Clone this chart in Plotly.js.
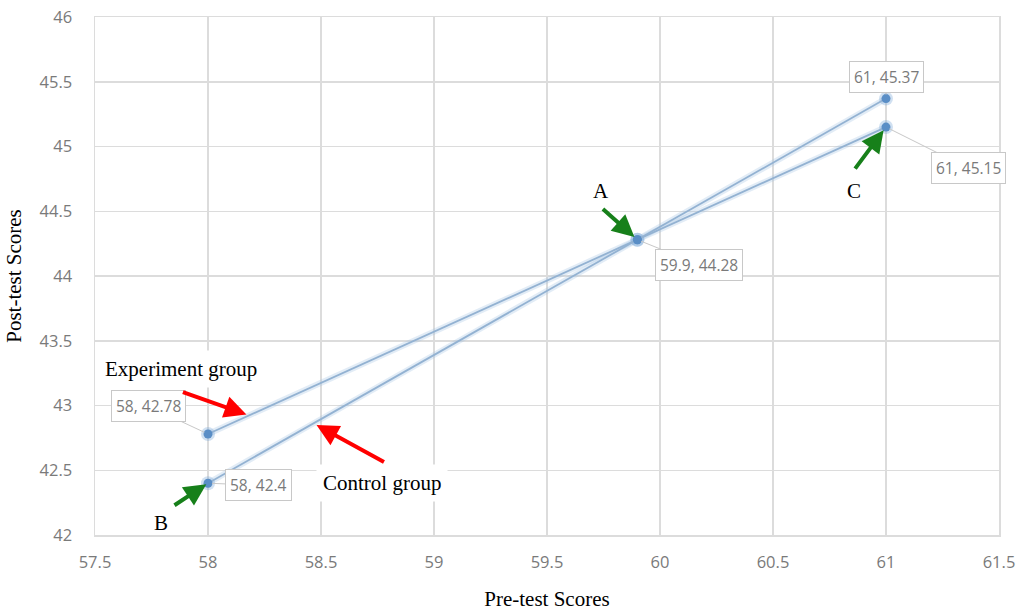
<!DOCTYPE html>
<html>
<head>
<meta charset="utf-8">
<script src="https://cdn.plot.ly/plotly-3.0.1.min.js"></script>
<style>
html,body{margin:0;padding:0;background:#fff;}
#chart{width:1019px;height:612px;}
</style>
</head>
<body>
<div id="chart"></div>
<script>
// ---- data ----
const preTest = [58, 59.9, 61];
const experimentPost = [42.78, 44.28, 45.15];
const controlPost = [42.4, 44.28, 45.37];
const xTicks = [57.5, 58, 58.5, 59, 59.5, 60, 60.5, 61, 61.5];
const yTicks = [42, 42.5, 43, 43.5, 44, 44.5, 45, 45.5, 46];
const seriesNames = ["Experiment group", "Control group"];
const pointLetters = ["A", "B", "C"];

const lineCol = '#93b2d2';
const glowCol = 'rgba(160,192,225,0.30)';
const markerCol = '#5a8ec6';

function glowTrace(y){
  return {x: preTest, y: y, type:'scatter', mode:'lines+markers',
    line:{color:glowCol, width:6}, marker:{color:'rgba(120,165,215,0.35)', size:14},
    hoverinfo:'skip', showlegend:false};
}
function mainTrace(y, name){
  return {x: preTest, y: y, type:'scatter', mode:'lines+markers', name:name,
    line:{color:lineCol, width:1.8}, marker:{color:markerCol, size:9},
    showlegend:false};
}
const traces = [glowTrace(experimentPost), glowTrace(controlPost),
  mainTrace(experimentPost, seriesNames[0]), mainTrace(controlPost, seriesNames[1])];

// data labels (box + leader line)
function dataLabel(x, y, ax, ay){
  return {x:x, y:y, xref:'x', yref:'y', text: x + ', ' + y,
    showarrow:true, arrowhead:0, arrowwidth:1, arrowcolor:'#c8c8c8', standoff:4,
    ax:ax, ay:ay, bgcolor:'#ffffff', bordercolor:'#c8c8c8', borderwidth:1, borderpad:4,
    font:{family:'Open Sans, sans-serif', size:15.5, color:'#7a7a7a'}};
}
const labelFont = {family:'Liberation Serif, Times New Roman, serif', size:21, color:'#000'};
function arrow(x, y, ax, ay, col, standoff){
  return {x:x, y:y, xref:'x', yref:'y', text:'', showarrow:true, arrowhead:2,
    arrowsize:1.1, arrowwidth:4, arrowcolor:col, ax:ax, ay:ay, standoff:standoff||0};
}
const green = '#17801a';
const red = '#ff0000';

const annotations = [
  dataLabel(preTest[0], experimentPost[0], -60, -28),
  dataLabel(preTest[0], controlPost[0], 50, 2),
  dataLabel(preTest[1], experimentPost[1], 62, 25),
  dataLabel(preTest[2], controlPost[2], 0, -22),
  dataLabel(preTest[2], experimentPost[2], 82, 41),
  // group texts
  {x:57.88, y:43.28, xref:'x', yref:'y', text:seriesNames[0], showarrow:false,
   xanchor:'center', font:labelFont, bgcolor:'#fff', borderpad:6},
  {x:58.77, y:42.4, xref:'x', yref:'y', text:seriesNames[1], showarrow:false,
   xanchor:'center', font:labelFont, bgcolor:'#fff', borderpad:6},
  // red arrows
  arrow(58.17, 42.93, -65, -23, red),
  arrow(58.48, 42.85, 69, 38, red),
  // green arrows
  arrow(preTest[1], experimentPost[1], -36, -32, green, 4),
  arrow(preTest[0], controlPost[0], -35, 23, green, 2),
  arrow(preTest[2], experimentPost[2], -32, 43, green, 4),
  // letters
  {x:59.74, y:44.66, xref:'x', yref:'y', text:pointLetters[0], showarrow:false, font:labelFont},
  {x:57.79, y:42.09, xref:'x', yref:'y', text:pointLetters[1], showarrow:false, font:labelFont},
  {x:60.86, y:44.66, xref:'x', yref:'y', text:pointLetters[2], showarrow:false, font:labelFont}
];

const tickFont = {family:'Open Sans, sans-serif', size:16.5, color:'#7a7a7a'};
const titleFont = {family:'Liberation Serif, Times New Roman, serif', size:21, color:'#000'};

const layout = {
  width:1019, height:612,
  margin:{l:95, r:20, t:17, b:77},
  paper_bgcolor:'#fff', plot_bgcolor:'#fff',
  showlegend:false,
  xaxis:{range:[57.5,61.5], tickvals:xTicks, ticktext:xTicks.map(String),
    showgrid:true, gridcolor:'#dcdcdc', gridwidth:1.5, zeroline:false,
    showline:true, linecolor:'#dcdcdc', linewidth:1.5, mirror:true,
    ticks:'', ticklabelstandoff:12, tickfont:tickFont,
    title:{text:'Pre-test Scores', font:titleFont, standoff:19}, automargin:false},
  yaxis:{range:[42,46], tickvals:yTicks, ticktext:yTicks.map(String),
    showgrid:true, gridcolor:'#dcdcdc', gridwidth:1.5, zeroline:false,
    showline:true, linecolor:'#dcdcdc', linewidth:1.5, mirror:true,
    ticks:'', ticklabelstandoff:18, tickfont:tickFont,
    title:{text:'Post-test Scores', font:titleFont, standoff:12}, automargin:false},
  annotations: annotations
};

Plotly.newPlot('chart', traces, layout, {displayModeBar:false, staticPlot:true});
</script>
</body>
</html>
